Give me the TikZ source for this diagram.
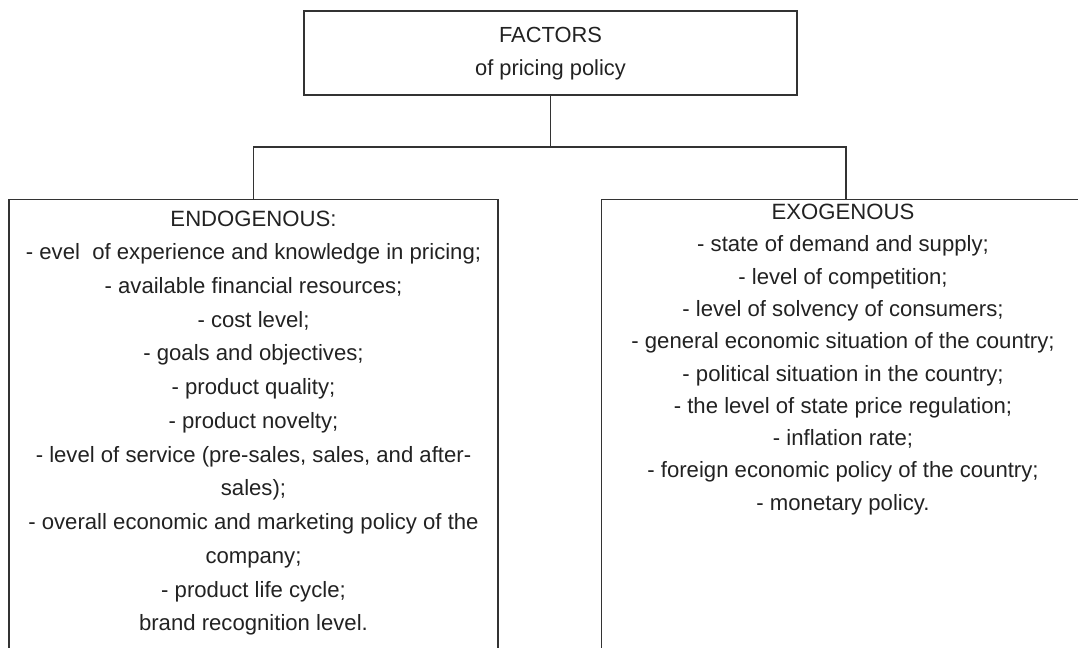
\documentclass[tikz,border=0pt]{standalone}
\usepackage{fontspec}
\setmainfont{Liberation Sans}
\definecolor{linec}{HTML}{333333}
\definecolor{textc}{HTML}{222222}
\begin{document}
\begin{tikzpicture}[x=0.75pt,y=-0.75pt,
  box/.style={draw=linec, line width=1.1pt, inner sep=0pt, fill=none},
  conn/.style={draw=linec, line width=1.1pt},
  txt/.style={align=center, inner sep=0pt, text=textc}]
\clip (0,0) rectangle (1078,648);
\fill[white] (0,0) rectangle (1078,648);
% boxes
\node[box, minimum width=369.75pt, minimum height=63pt] (top) at (550.5,53) {};
\node[box, anchor=north, minimum width=366.75pt, minimum height=375pt] (left) at (253.5,199) {};
\node[box, anchor=north, minimum width=366.75pt, minimum height=375pt] (right) at (846,199) {};
% texts
\node[txt, font=\fontsize{16.4}{24.75}\selectfont] (toptxt) at (550.5,53.5) {FACTORS\\of pricing policy};
\node[txt, font=\fontsize{16.6}{25.3}\selectfont] (lefttxt) at (253.5,423) {ENDOGENOUS:\\
- evel\ \ of experience and knowledge in pricing;\\
- available financial resources;\\
- cost level;\\
- goals and objectives;\\
- product quality;\\
- product novelty;\\
- level of service (pre-sales, sales, and after-\\
sales);\\
- overall economic and marketing policy of the\\
company;\\
- product life cycle;\\
brand recognition level.};
\node[txt, font=\fontsize{16.6}{24.2}\selectfont] (righttxt) at (843,359.5) {EXOGENOUS\\
- state of demand and supply;\\
- level of competition;\\
- level of solvency of consumers;\\
- general economic situation of the country;\\
- political situation in the country;\\
- the level of state price regulation;\\
- inflation rate;\\
- foreign economic policy of the country;\\
- monetary policy.};
% connectors
\coordinate (j) at (550.5,147);
\draw[conn] (top.south) -- (j);
\draw[conn] (j) -| (left.north);
\draw[conn] (j) -| (right.north);
\end{tikzpicture}
\end{document}
